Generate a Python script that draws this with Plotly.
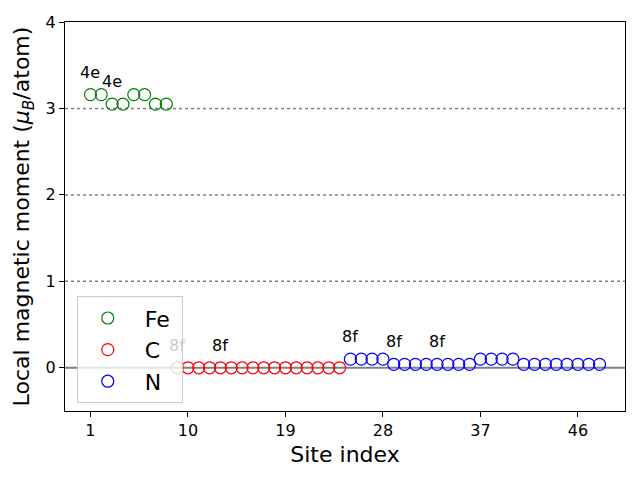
import plotly.graph_objects as go

fe_sites = [1, 2, 3, 4, 5, 6, 7, 8]
fe_moments = [3.16, 3.16, 3.05, 3.05, 3.16, 3.16, 3.05, 3.05]
c_sites = list(range(9, 25))
c_moments = [0.0] * 16
n_sites = list(range(25, 49))
n_moments = [0.10, 0.10, 0.10, 0.10, 0.04, 0.04, 0.04, 0.04,
             0.04, 0.04, 0.04, 0.04, 0.10, 0.10, 0.10, 0.10,
             0.04, 0.04, 0.04, 0.04, 0.04, 0.04, 0.04, 0.04]
label_sites = [1, 3, 9, 13, 25, 29, 33]
label_values = [3.16, 3.05, 0.0, 0.0, 0.10, 0.04, 0.04]
label_texts = ["4e", "4e", "8f", "8f", "8f", "8f", "8f"]
# the first 8f label sits beneath the translucent legend box in the reference
label_colors = ["black", "black", "#cccccc", "black", "black", "black", "black"]
x_ticks = [1, 10, 19, 28, 37, 46]
y_ticks = [0, 1, 2, 3, 4]
grid_levels = [1, 2, 3]

FONT = "DejaVu Sans"
NB = "\u00a0"
fig = go.Figure()
for name, xs, ys, col in [("Fe", fe_sites, fe_moments, "green"),
                          ("C", c_sites, c_moments, "red"),
                          ("N", n_sites, n_moments, "blue")]:
    fig.add_trace(go.Scatter(
        x=xs, y=ys, mode="markers", name=NB + name + NB,
        marker=dict(symbol="circle-open", size=12, color=col,
                    line=dict(width=1.2, color=col)),
    ))

shapes = []
for g in grid_levels:
    shapes.append(dict(type="line", xref="paper", x0=0, x1=1, yref="y", y0=g, y1=g,
                       line=dict(color="gray", width=1.5, dash="dot"), layer="below"))
shapes.append(dict(type="line", xref="paper", x0=0, x1=1, yref="y", y0=0, y1=0,
                   line=dict(color="gray", width=2), layer="below"))

annotations = []
for s, v, t, c in zip(label_sites, label_values, label_texts, label_colors):
    annotations.append(dict(x=s, y=v + 0.26, xref="x", yref="y", text=t, showarrow=False,
                            font=dict(size=16, color=c, family=FONT)))

fig.update_layout(
    width=640, height=480,
    margin=dict(l=65, r=15, t=22, b=69),
    plot_bgcolor="white", paper_bgcolor="white",
    font=dict(family=FONT, color="black"),
    shapes=shapes, annotations=annotations,
    xaxis=dict(range=[-1.35, 50.35], tickvals=x_ticks, ticks="outside", ticklen=5,
               tickwidth=1, tickcolor="black", showline=True, linecolor="black",
               linewidth=1, mirror=True, showgrid=False, zeroline=False,
               tickfont=dict(size=16, family=FONT),
               title=dict(text="Site index", font=dict(size=22, family=FONT), standoff=7)),
    yaxis=dict(range=[-0.5, 4], tickvals=y_ticks, ticks="outside", ticklen=5,
               tickwidth=1, tickcolor="black", showline=True, linecolor="black",
               linewidth=1, mirror=True, showgrid=False, zeroline=False,
               tickfont=dict(size=16, family=FONT),
               title=dict(text="Local magnetic moment (<i>μ</i><sub><i>B</i></sub>/atom)",
                          font=dict(size=22, family=FONT), standoff=9)),
    legend=dict(x=0.021, y=0.02, xanchor="left", yanchor="bottom",
                bgcolor="rgba(255,255,255,0.8)", bordercolor="#cccccc", borderwidth=1,
                itemwidth=50, tracegroupgap=0,
                font=dict(size=22, family=FONT)),
)

fig.write_html("out.html")
